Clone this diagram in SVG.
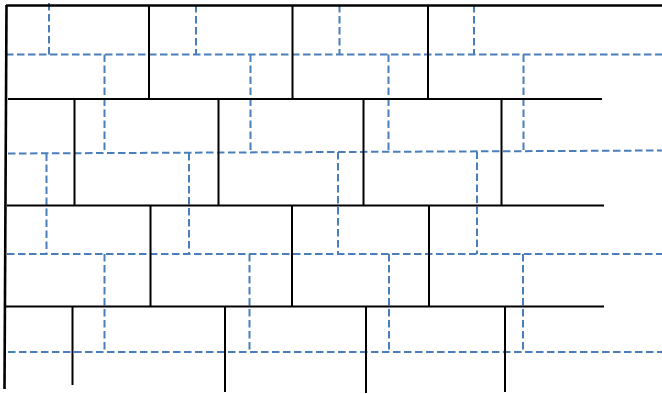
<svg xmlns="http://www.w3.org/2000/svg" width="662" height="394" viewBox="0 0 662 394">
<style>
.b{stroke:#000;stroke-width:2;fill:none}
.bt{stroke:#000;stroke-width:2.6;fill:none}
.d{stroke:#4a7ebb;stroke-width:2;stroke-dasharray:7.5 3.5;fill:none}
</style>
<rect width="662" height="394" fill="#fff"/>
<g id="joints-blue">
<path class="d" d="M6 54.5H662"/>
<path class="d" d="M49 3V54.5M196 5V54.5M339.5 5V54.5M474 5V54.5"/>
<path class="d" d="M104.5 54.5V152.5M250.5 54.5V152M388.5 54.5V151.5M523.5 54.5V151"/>
<path class="d" d="M8 153.5L662 150.5"/>
<path class="d" d="M46.5 153.5V254M189 153V254M338 152V254M477 151.5V254"/>
<path class="d" d="M7 254H662"/>
<path class="d" d="M104.5 254V352M249.5 254V352M389 254V352M523 254V352"/>
<path class="d" d="M8 352H662"/>
</g>
<g id="joints-black">
<path class="bt" d="M6 5.5H662"/>
<path class="bt" d="M6.5 5L4.5 389"/>
<path class="b" d="M149 5.5V99M292.5 5.5V99M428 5.5V99"/>
<path class="b" d="M8 99H602"/>
<path class="b" d="M74.5 99V205.5M218.5 99V205.5M363.5 99V205.5M501.5 99V205.5"/>
<path class="b" d="M7 205.5H604"/>
<path class="b" d="M150.5 205.5V306.5M292 205.5V306.5M429 205.5V306.5"/>
<path class="b" d="M6 306.5H604"/>
<path class="b" d="M72.5 306.5V385M225 306.5V392M366 306.5V393M505 306.5V392"/>
</g>
</svg>
